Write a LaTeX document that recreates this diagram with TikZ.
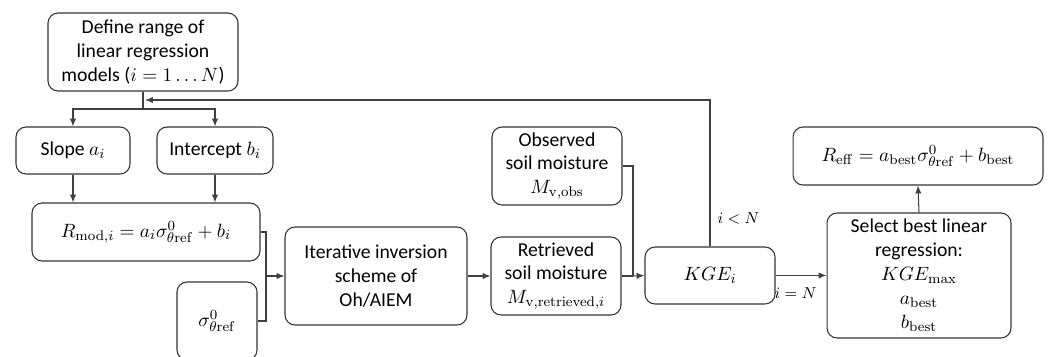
\documentclass[tikz,border=0pt]{standalone}
\usepackage[no-math]{fontspec}
\setmainfont{Carlito}
\usetikzlibrary{arrows.meta}

\begin{document}
\begin{tikzpicture}[x=0.02cm,y=-0.02cm,line width=0.6pt,>={Latex[length=4.5pt,width=3.6pt]},
  box/.style={draw=black!80,rounded corners=0.2cm,align=center,inner sep=2pt,
    font=\fontsize{11.2}{13.6}\selectfont},
  conn/.style={draw=black!75},
  lbl/.style={font=\fontsize{9.5}{11}\selectfont,inner sep=0pt,anchor=west}]
\useasboundingbox (0,0) rectangle (1048,356);
% ---------- left column ----------
\node[box,minimum width=3.8cm,minimum height=1.56cm] (define) at (143,52)
  {Define range of\\linear regression\\models ($i=1\ldots N$)};
\node[box,minimum width=2.28cm,minimum height=0.94cm] (slope) at (73,150.5) {Slope $a_i$};
\node[box,minimum width=2.32cm,minimum height=0.94cm] (icept) at (215,150.5) {Intercept $b_i$};
\node[box,minimum width=4.56cm,minimum height=1.16cm] (rmod) at (146,232)
  {$R_{\mathrm{mod},i}=a_i\sigma^0_{\theta\mathrm{ref}}+b_i$};
\node[box,minimum width=1.6cm,minimum height=1.56cm] (sigma) at (217,321)
  {$\sigma^0_{\theta\mathrm{ref}}$};
% ---------- middle ----------
\node[box,minimum width=3.64cm,minimum height=1.96cm] (iter) at (376,276)
  {Iterative inversion\\scheme of\\Oh/AIEM};
\node[box,minimum width=2.6cm,minimum height=1.56cm] (retr) at (556,276)
  {Retrieved\\soil moisture\\$M_{\mathrm{v,retrieved},i}$};
\node[box,minimum width=2.6cm,minimum height=1.56cm] (obs) at (557,166)
  {Observed\\soil moisture\\$M_{\mathrm{v,obs}}$};
\node[box,minimum width=2.6cm,minimum height=1.14cm] (kge) at (710,275.5) {$KGE_i$};
% ---------- right ----------
\node[box,minimum width=3.68cm,minimum height=2.5cm] (select) at (919,275.5)
  {Select best linear\\regression:\\$KGE_{\max}$\\$a_{\mathrm{best}}$\\$b_{\mathrm{best}}$};
\node[box,minimum width=5.0cm,minimum height=1.16cm] (reff) at (918,156)
  {$R_{\mathrm{eff}}=a_{\mathrm{best}}\sigma^0_{\theta\mathrm{ref}}+b_{\mathrm{best}}$};
% junctions
\coordinate (split) at (143,109);
\coordinate (join) at (266,276);
\coordinate (merge) at (633,276);
\coordinate (back) at (145,100);
% connectors
\draw[conn] (define.south) -- (split);
\draw[conn,->] (split) -| (slope.north);
\draw[conn,->] (split) -| (icept.north);
\draw[conn,->] (slope.south) -- (slope.south |- rmod.north);
\draw[conn,->] (icept.south) -- (icept.south |- rmod.north);
\draw[conn] (rmod.east) -| (join);
\draw[conn] (sigma.east) -| (join);
\draw[conn,->] (join) -- (iter.west);
\draw[conn,->] (iter.east) -- (retr.west);
\draw[conn] (retr.east) -- (merge);
\draw[conn] (obs.east) -| (merge);
\draw[conn,->] (merge) -- (kge.west);
\draw[conn,->] (kge.north) |- (back);
\draw[conn,->] (kge.east |- select.west) -- (select.west);
\draw[conn,->] (select.north) -- (reff.south);
% conditions
\node[lbl] (lt) at (717,218) {$i<N$};
\node[lbl] (eq) at (774,293) {$i=N$};
\end{tikzpicture}
\end{document}
